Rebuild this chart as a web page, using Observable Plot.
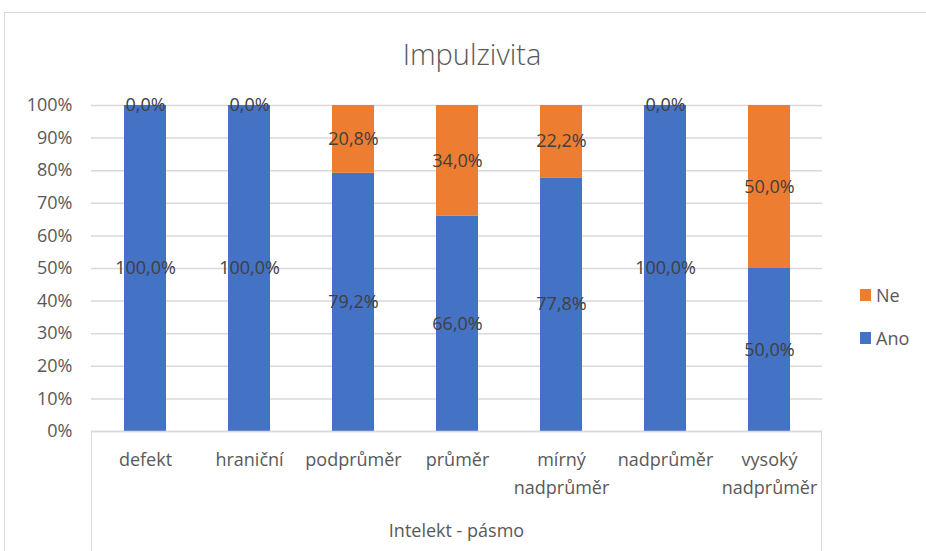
<!DOCTYPE html>
<html>
<head>
<meta charset="utf-8">
<script src="https://cdn.jsdelivr.net/npm/d3@7"></script>
<script src="https://cdn.jsdelivr.net/npm/@observablehq/plot@0.6"></script>
<style>
  html, body { margin: 0; padding: 0; background: #fff; }
  #wrap { position: relative; width: 926px; height: 551px; overflow: hidden; font-family: "Open Sans", sans-serif; color: #595959; }
  #frame { position: absolute; left: 4px; top: 12px; width: 1000px; height: 700px; border: 1px solid #d9d9d9; box-sizing: border-box; }
  #title { position: absolute; left: 0; width: 944px; top: 34px; text-align: center; font-size: 29px; font-weight: 300; color: #595959; }
  #box { position: absolute; left: 91px; top: 431px; width: 731px; height: 200px; border-left: 1.5px solid #d9d9d9; border-right: 1.5px solid #d9d9d9; box-sizing: border-box; }
  #xtitle { position: absolute; left: 91px; width: 731px; top: 518px; text-align: center; font-size: 18px; color: #595959; }
  #chart { position: absolute; left: 0; top: 0; }
  #legend { position: absolute; left: 860px; top: 282px; font-size: 18px; color: #595959; }
  .item { display: flex; align-items: center; height: 26px; margin-bottom: 17px; }
  .sw { width: 11px; height: 12px; margin-right: 5px; }
</style>
</head>
<body>
<div id="wrap">
  <div id="frame"></div>
  <div id="box"></div>
  <div id="chart"></div>
  <div id="title">Impulzivita</div>
  <div id="xtitle">Intelekt - pásmo</div>
  <div id="legend"></div>
</div>
<script>
const categories = ["defekt", "hraniční", "podprůměr", "průměr", "mírný nadprůměr", "nadprůměr", "vysoký nadprůměr"];
const xLabels = ["defekt", "hraniční", "podprůměr", "průměr", "mírný\nnadprůměr", "nadprůměr", "vysoký\nnadprůměr"];
const series = ["Ano", "Ne"];
const anoValues = [100, 100, 79.2, 66.0, 77.8, 100, 50];
const neValues = [0, 0, 20.8, 34.0, 22.2, 0, 50];
const seriesColors = ["#4472C4", "#ED7D31"];
const yTicks = [0, 10, 20, 30, 40, 50, 60, 70, 80, 90, 100];
const legendOrder = ["Ne", "Ano"];

const data = categories.flatMap((c, i) => [
  {cat: c, series: "Ano", value: anoValues[i]},
  {cat: c, series: "Ne", value: neValues[i]}
]);
const fmt = v => v.toFixed(1).replace(".", ",") + "%";

const chart = Plot.plot({
  width: 840,
  height: 551,
  marginTop: 105,
  marginBottom: 120,
  marginLeft: 91,
  marginRight: 18,
  style: {fontFamily: "Open Sans, sans-serif", fontSize: "18px", color: "#595959", background: "transparent"},
  x: {domain: categories, paddingInner: 0.6, paddingOuter: 0.3, label: null},
  y: {domain: [0, 100], label: null},
  color: {domain: series, range: seriesColors},
  marks: [
    Plot.gridY(yTicks, {stroke: "#d9d9d9", strokeOpacity: 1, strokeWidth: 1.5}),
    Plot.axisY(yTicks, {tickSize: 0, tickPadding: 19, tickFormat: d => d + "%", fontSize: 18, label: null, fill: "#595959"}),
    Plot.axisX({tickSize: 0, tickPadding: 15, tickFormat: d => xLabels[categories.indexOf(d)], lineHeight: 1.55, fontSize: 18, label: null, fill: "#595959"}),
    Plot.barY(data, {x: "cat", y: "value", fill: "series", order: series}),
    Plot.ruleY([0], {stroke: "#d9d9d9", strokeWidth: 1.5}),
    Plot.text(data, Plot.stackY({x: "cat", y: "value", z: "series", order: series, text: d => fmt(d.value), fill: "#404040", fontSize: 18}))
  ]
});
document.getElementById("chart").appendChild(chart);

const legend = document.getElementById("legend");
legendOrder.forEach(s => {
  const item = document.createElement("div");
  item.className = "item";
  const sw = document.createElement("span");
  sw.className = "sw";
  sw.style.background = seriesColors[series.indexOf(s)];
  const label = document.createElement("span");
  label.textContent = s;
  item.appendChild(sw);
  item.appendChild(label);
  legend.appendChild(item);
});
</script>
</body>
</html>
